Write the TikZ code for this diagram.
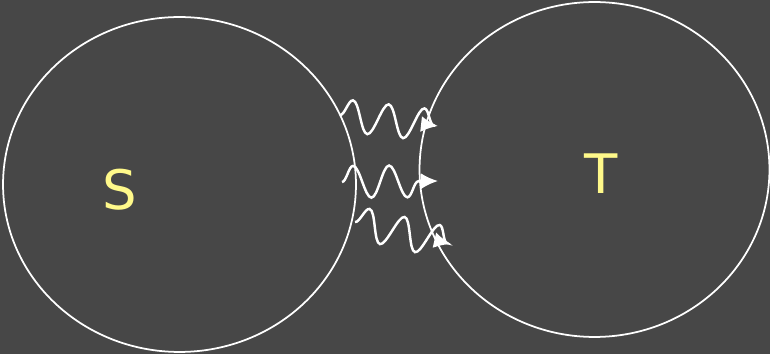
\documentclass[tikz,border=0pt]{standalone}
\usepackage{fontspec}
\setmainfont{DejaVu Sans}
\usetikzlibrary{arrows.meta,shapes.geometric,decorations.pathmorphing}
\definecolor{boardGray}{HTML}{474747}
\definecolor{chalkYellow}{HTML}{FFF98A}
\tikzset{
  setring/.style={
    ellipse,
    draw=white,
    line width=1pt,
    inner sep=0pt
  },
  setlabel/.style={
    text=chalkYellow,
    inner sep=0pt,
    font=\fontsize{31}{31}\selectfont
  },
  flowarrow/.style={
    draw=white,
    line width=1.4pt,
    -{Latex[length=3.4mm,width=3.2mm]},
    decorate,
    decoration={snake, segment length=7.2mm, amplitude=3.2mm, post length=0.5mm}
  }
}
\begin{document}
\begin{tikzpicture}[x=0.02cm,y=-0.02cm]
  \useasboundingbox (0,0) rectangle (770,354);
  \fill[boardGray] (0,0) rectangle (770,354);
  \node[setring,minimum width=7.06cm,minimum height=6.7cm] (sRing) at (179.5,184.5) {};
  \node[setring,minimum width=7.0cm,minimum height=6.7cm] (tRing) at (594.5,169.5) {};
  \node[setlabel] (sLabel) at (120,190) {S};
  \node[setlabel] (tLabel) at (601,174) {T};
  \coordinate (flowA) at (340,115);
  \coordinate (flowAend) at (438,126);
  \coordinate (flowB) at (342,182);
  \coordinate (flowBend) at (438,181);
  \coordinate (flowC) at (355,222);
  \coordinate (flowCend) at (451,244);
  \draw[flowarrow] (flowA) -- (flowAend);
  \draw[flowarrow] (flowB) -- (flowBend);
  \draw[flowarrow] (flowC) -- (flowCend);
\end{tikzpicture}
\end{document}
